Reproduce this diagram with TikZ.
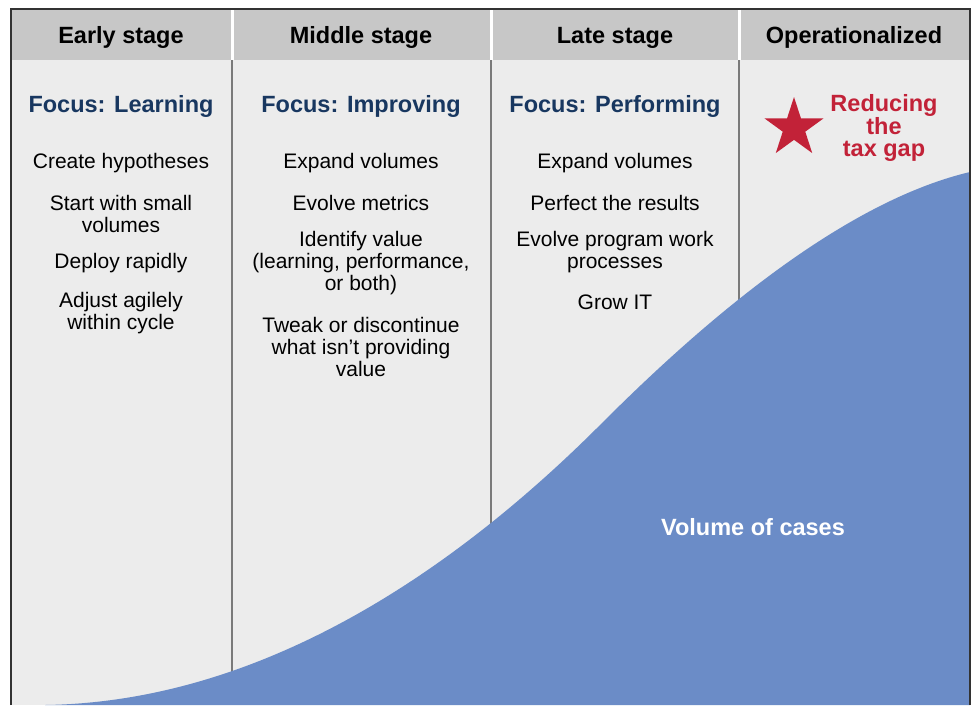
\documentclass[tikz,border=0pt]{standalone}
\usepackage{fontspec}
\setmainfont{Liberation Sans}
\usetikzlibrary{shapes.geometric}
\definecolor{headgray}{RGB}{199,199,199}
\definecolor{bodygray}{RGB}{236,236,236}
\definecolor{rulegray}{RGB}{122,122,122}
\definecolor{focusblue}{RGB}{24,55,96}
\definecolor{goalred}{RGB}{194,34,56}
\definecolor{casesblue}{RGB}{107,140,199}
\begin{document}
\begin{tikzpicture}[x=1pt,y=-1pt,
  headtxt/.style={font=\fontsize{23.5}{26}\selectfont\bfseries},
  focustxt/.style={font=\fontsize{23.5}{26}\selectfont\bfseries,text=focusblue},
  itemtxt/.style={font=\fontsize{21}{22}\selectfont,align=center,inner sep=0pt},
  goaltxt/.style={font=\fontsize{23.5}{22}\selectfont\bfseries,text=goalred,align=center,inner sep=0pt}]
\useasboundingbox (0,0) rectangle (972,705);
\fill[white] (0,0) rectangle (972,705);
\fill[bodygray] (11,60) rectangle (970,705);
\fill[headgray] (11,9) rectangle (970,60);
% column rules, header gaps
\foreach \x in {232,491,739}
{
\draw[rulegray, line width=1.5pt] (\x,60) -- (\x,705);
\draw[white, line width=3pt] (\x,9) -- (\x,60);
}
% volume curve
\coordinate (c0) at (45,705);
\coordinate (cm) at (600,425);
\coordinate (c1) at (970,172);
\fill[casesblue] (c0) .. controls (250,702) and (440,585) .. (cm)
  .. controls (680,345) and (830,205) .. (c1) -- (970,705) -- cycle;
\draw[black!80, line width=1.5pt] (11,705) -- (11,9) -- (970,9) -- (970,705);
% headers
\foreach \n/\x/\texto in {1/121/{Early stage},2/361/{Middle stage},3/615/{Late stage},4/854/{Operationalized}}
\node[headtxt] (h\n) at (\x,37.8) {\texto};
\foreach \n/\x/\texto in {1/121/{Learning},2/361/{Improving},3/615/{Performing}}
\node[focustxt] (f\n) at (\x,106) {Focus: \texto};
% early stage
\node[itemtxt] (e1) at (121,163.5) {Create hypotheses};
\node[itemtxt] (e2) at (121,213.5) {Start with small\\volumes};
\node[itemtxt] (e3) at (121,263.5) {Deploy rapidly};
\node[itemtxt] (e4) at (121,313.5) {Adjust agilely\\within cycle};
% middle stage
\node[itemtxt] (m1) at (361,163.5) {Expand volumes};
\node[itemtxt] (m2) at (361,202.5) {Evolve metrics};
\node[itemtxt] (m3) at (361,263.5) {Identify value\\(learning, performance,\\or both)};
\node[itemtxt] (m4) at (361,346.5) {Tweak or discontinue\\what isn’t providing\\value};
% late stage
\node[itemtxt] (l1) at (615,163.5) {Expand volumes};
\node[itemtxt] (l2) at (615,202.5) {Perfect the results};
\node[itemtxt] (l3) at (615,252.5) {Evolve program work\\processes};
\node[itemtxt] (l4) at (615,302.5) {Grow IT};
% operationalized
\node[star, star points=5, star point ratio=2.618, minimum size=62pt, inner sep=0pt, fill=goalred] (star) at (794,128) {};
\node[goaltxt] (goal) at (884,127.5) {Reducing\\the\\tax gap};
\node[headtxt, text=white] (cases) at (753,527) {Volume of cases};
\end{tikzpicture}
\end{document}
